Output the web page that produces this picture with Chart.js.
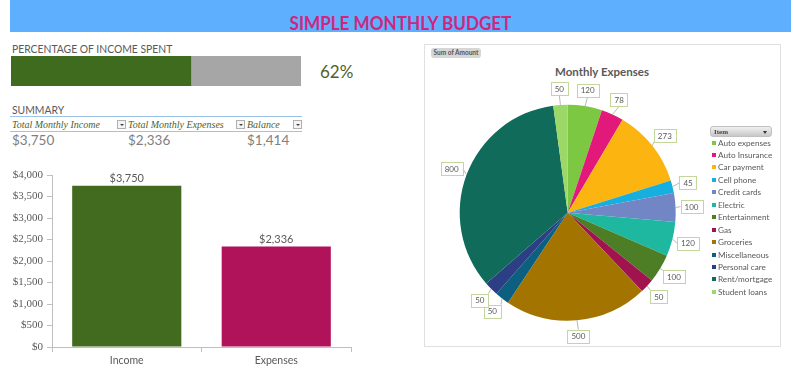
<!DOCTYPE html>
<html>
<head>
<meta charset="utf-8">
<script src="https://cdn.jsdelivr.net/npm/chart.js@4.4.1/dist/chart.umd.min.js"></script>
<style>
  html,body{margin:0;padding:0;background:#fff;width:794px;height:389px;overflow:hidden;font-family:Lato,"Open Sans",sans-serif;}
  .abs{position:absolute;}
  #banner{left:10px;top:0;width:781px;height:32px;background:#5eb0fe;}
  #title{left:10px;top:0;width:781px;height:32px;line-height:45px;text-align:center;color:#d1267f;font-weight:700;font-size:19px;transform:scaleX(0.9);}
  .lbl{color:#595959;font-size:11.5px;white-space:nowrap;transform:scaleX(0.9);transform-origin:left center;}
  .hdr{font-family:"Liberation Serif",serif;font-style:italic;color:#4f6228;font-size:10px;white-space:nowrap;}
  .val{color:#7f7f7f;font-size:13.5px;white-space:nowrap;}
  .dd{width:7px;height:7px;border:1px solid #b0b0b0;background:#f4f4f4;}
  .dd:after{content:"";position:absolute;left:2px;top:3px;border-left:2px solid transparent;border-right:2px solid transparent;border-top:2px solid #444;}
  #pieBox{left:424px;top:44px;width:355px;height:301px;border:1px solid #e0e0e0;}
  #sumBtn{left:431px;top:48px;width:50px;height:10px;border-radius:3px;background:#d6d6d6;font-size:6.5px;font-weight:700;color:#555;line-height:10px;text-align:center;white-space:nowrap;}
  #pieTitle{left:520px;top:65px;width:164px;text-align:center;font-weight:700;font-size:11.5px;color:#595959;}
  #itemHdr{left:710px;top:126px;width:62px;height:11px;border-radius:3px;background:linear-gradient(#f0f0f0,#c8c8c8);border:1px solid #c0c0c0;font-family:"Liberation Serif",serif;font-weight:700;font-size:7px;color:#444;line-height:10px;padding-left:3px;box-sizing:border-box;}
  #itemHdr:after{content:"";position:absolute;right:4px;top:4px;border-left:2.5px solid transparent;border-right:2.5px solid transparent;border-top:3px solid #333;}
  .leg{position:absolute;left:712px;font-size:8.2px;color:#595959;white-space:nowrap;line-height:10px;}
  .leg i{display:inline-block;width:4px;height:4px;margin-right:2px;vertical-align:1px;}
</style>
</head>
<body>
<div id="banner" class="abs"></div>
<div id="title" class="abs">SIMPLE MONTHLY BUDGET</div>

<div class="abs lbl" style="left:12px;top:42px;">PERCENTAGE OF INCOME SPENT</div>
<div class="abs" style="left:11px;top:56px;width:290px;height:30px;"><canvas id="progress" width="290" height="30"></canvas></div>
<div id="pct" class="abs" style="left:320px;top:61px;font-size:17px;color:#4f6228;"></div>

<div class="abs lbl" style="left:12px;top:103px;">SUMMARY</div>
<div class="abs" style="left:10px;top:116px;width:292px;height:1px;background:#9dc3e6;"></div>
<div class="abs" style="left:10px;top:131px;width:292px;height:1px;background:#9dc3e6;"></div>
<div id="summary"></div>

<div class="abs" style="left:0;top:160px;width:360px;height:220px;"><canvas id="bars" width="360" height="220"></canvas></div>

<div id="pieBox" class="abs"></div>
<div id="sumBtn" class="abs">Sum of Amount</div>
<div id="pieTitle" class="abs">Monthly Expenses</div>
<div class="abs" style="left:424px;top:44px;width:356px;height:302px;"><canvas id="pie" width="356" height="302"></canvas></div>
<div id="itemHdr" class="abs">Item</div>
<div id="legend"></div>

<script>
// ---------- data ----------
const summaryLabels = ["Total Monthly Income", "Total Monthly Expenses", "Balance"];
const summaryValues = [3750, 2336, 1414];
const barCategories = ["Income", "Expenses"];
const barValues = [3750, 2336];
const barColors = ["#426b1f", "#b0135a"];
const yTicks = [0, 500, 1000, 1500, 2000, 2500, 3000, 3500, 4000];
const percentSpent = [62];
const percentRemaining = [38];
const pieItems = ["Auto expenses", "Auto Insurance", "Car payment", "Cell phone", "Credit cards", "Electric",
  "Entertainment", "Gas", "Groceries", "Miscellaneous", "Personal care", "Rent/mortgage", "Student loans"];
const pieAmounts = [120, 78, 273, 45, 100, 120, 100, 50, 500, 50, 50, 800, 50];
const pieColors = ["#7cc843", "#e2197b", "#fbb410", "#17aee0", "#7286c6", "#1db89f",
  "#4d7d24", "#a1134e", "#a37500", "#0d5f80", "#2d3f84", "#106b5b", "#9bd867"];

Chart.defaults.font.family = "Lato, 'Open Sans', sans-serif";
Chart.defaults.color = "#595959";
Chart.defaults.animation = false;

const money = v => "$" + v.toLocaleString("en-US");

// ---------- summary table ----------
const sumX = [12, 128, 247];
const ddX = [117, 236, 293];
let html = "";
summaryLabels.forEach((l, i) => {
  html += `<div class="abs hdr" style="left:${sumX[i]}px;top:119px;">${l}</div>`;
  html += `<div class="abs dd" style="left:${ddX[i]}px;top:120px;"></div>`;
  html += `<div class="abs val" style="left:${sumX[i]}px;top:132px;">${money(summaryValues[i])}</div>`;
});
document.getElementById("summary").innerHTML = html;
document.getElementById("pct").textContent = percentSpent[0] + "%";

// ---------- progress bar ----------
new Chart(document.getElementById("progress"), {
  type: "bar",
  data: {
    labels: [""],
    datasets: [
      { data: percentSpent, backgroundColor: "#3f6b1e", barPercentage: 1, categoryPercentage: 1 },
      { data: percentRemaining, backgroundColor: "#a6a6a6", barPercentage: 1, categoryPercentage: 1 }
    ]
  },
  options: {
    indexAxis: "y", responsive: false,
    layout: { padding: 0 },
    plugins: { legend: { display: false }, tooltip: { enabled: false } },
    scales: {
      x: { stacked: true, min: 0, max: 100, display: false },
      y: { stacked: true, display: false }
    }
  }
});

// ---------- bar chart ----------
const barLabelPlugin = {
  id: "barLabels",
  afterDatasetsDraw(chart) {
    const ctx = chart.ctx;
    const meta = chart.getDatasetMeta(0);
    ctx.save();
    ctx.font = "11px Lato, sans-serif";
    ctx.fillStyle = "#595959";
    ctx.textAlign = "center";
    ctx.textBaseline = "bottom";
    meta.data.forEach((el, i) => {
      ctx.fillText(money(barValues[i]), el.x, el.y - 2);
    });
    ctx.restore();
  }
};
new Chart(document.getElementById("bars"), {
  type: "bar",
  data: {
    labels: barCategories,
    datasets: [{ data: barValues, backgroundColor: barColors, barPercentage: 0.73, categoryPercentage: 1 }]
  },
  options: {
    responsive: false,
    layout: { padding: { top: 15, right: 9, left: 0, bottom: 0 } },
    plugins: { legend: { display: false }, tooltip: { enabled: false } },
    scales: {
      y: {
        min: 0, max: 4000,
        afterBuildTicks(axis) { axis.ticks = yTicks.map(v => ({ value: v })); },
        afterFit(axis) { axis.width = 52; },
        border: { color: "#bfbfbf" },
        grid: { drawOnChartArea: false, drawTicks: true, tickLength: 5, color: "#bfbfbf" },
        ticks: { callback: v => money(v), font: { family: "'Liberation Serif', serif", size: 11 }, color: "#595959", padding: 4 }
      },
      x: {
        afterFit(axis) { axis.height = 33; },
        border: { color: "#bfbfbf" },
        grid: { drawOnChartArea: false, drawTicks: true, tickLength: 5, color: "#bfbfbf" },
        ticks: { font: { size: 10.5 }, color: "#595959", padding: 2 }
      }
    }
  },
  plugins: [barLabelPlugin]
});

// ---------- pie chart ----------
const pieLabelPlugin = {
  id: "pieLabels",
  afterDatasetsDraw(chart) {
    const ctx = chart.ctx;
    const meta = chart.getDatasetMeta(0);
    ctx.save();
    ctx.font = "8px Lato, sans-serif";
    ctx.textAlign = "center";
    ctx.textBaseline = "middle";
    meta.data.forEach((arc, i) => {
      const p = arc.getProps(["x", "y", "startAngle", "endAngle", "outerRadius"], true);
      const mid = (p.startAngle + p.endAngle) / 2;
      const cos = Math.cos(mid), sin = Math.sin(mid);
      const r = p.outerRadius;
      const txt = String(pieAmounts[i]);
      const w = ctx.measureText(txt).width + 8, h = 13;
      const cx = p.x + cos * (r + 16), cy = p.y + sin * (r + 16);
      const ex = p.x + cos * r, ey = p.y + sin * r;
      let tx = cx - Math.sign(cos) * w / 2 * (Math.abs(cos) > 0.5 ? 1 : 0);
      let ty = cy - Math.sign(sin) * h / 2 * (Math.abs(sin) > 0.5 ? 1 : 0);
      ctx.strokeStyle = "#a6a6a6";
      ctx.lineWidth = 0.8;
      ctx.beginPath();
      ctx.moveTo(ex, ey);
      ctx.lineTo(tx, ty);
      ctx.stroke();
      ctx.fillStyle = "#ffffff";
      ctx.fillRect(cx - w / 2, cy - h / 2, w, h);
      ctx.strokeStyle = "#c3d69b";
      ctx.lineWidth = 1;
      ctx.strokeRect(Math.round(cx - w / 2) + 0.5, Math.round(cy - h / 2) + 0.5, Math.round(w), h);
      ctx.fillStyle = "#595959";
      ctx.fillText(txt, cx, cy + 0.5);
    });
    ctx.restore();
  }
};
new Chart(document.getElementById("pie"), {
  type: "pie",
  data: {
    labels: pieItems,
    datasets: [{ data: pieAmounts, backgroundColor: pieColors, borderWidth: 0, hoverBorderWidth: 0, hoverOffset: 0 }]
  },
  options: {
    responsive: false,
    layout: { padding: { left: 35.7, top: 60.7, right: 104.3, bottom: 25.3 } },
    plugins: { legend: { display: false }, tooltip: { enabled: false } }
  },
  plugins: [pieLabelPlugin]
});

// ---------- legend ----------
let lg = "";
pieItems.forEach((name, i) => {
  const top = 137.5 + i * 12.45;
  lg += `<div class="leg" style="top:${top}px;"><i style="background:${pieColors[i]}"></i>${name}</div>`;
});
document.getElementById("legend").innerHTML = lg;
</script>
</body>
</html>
